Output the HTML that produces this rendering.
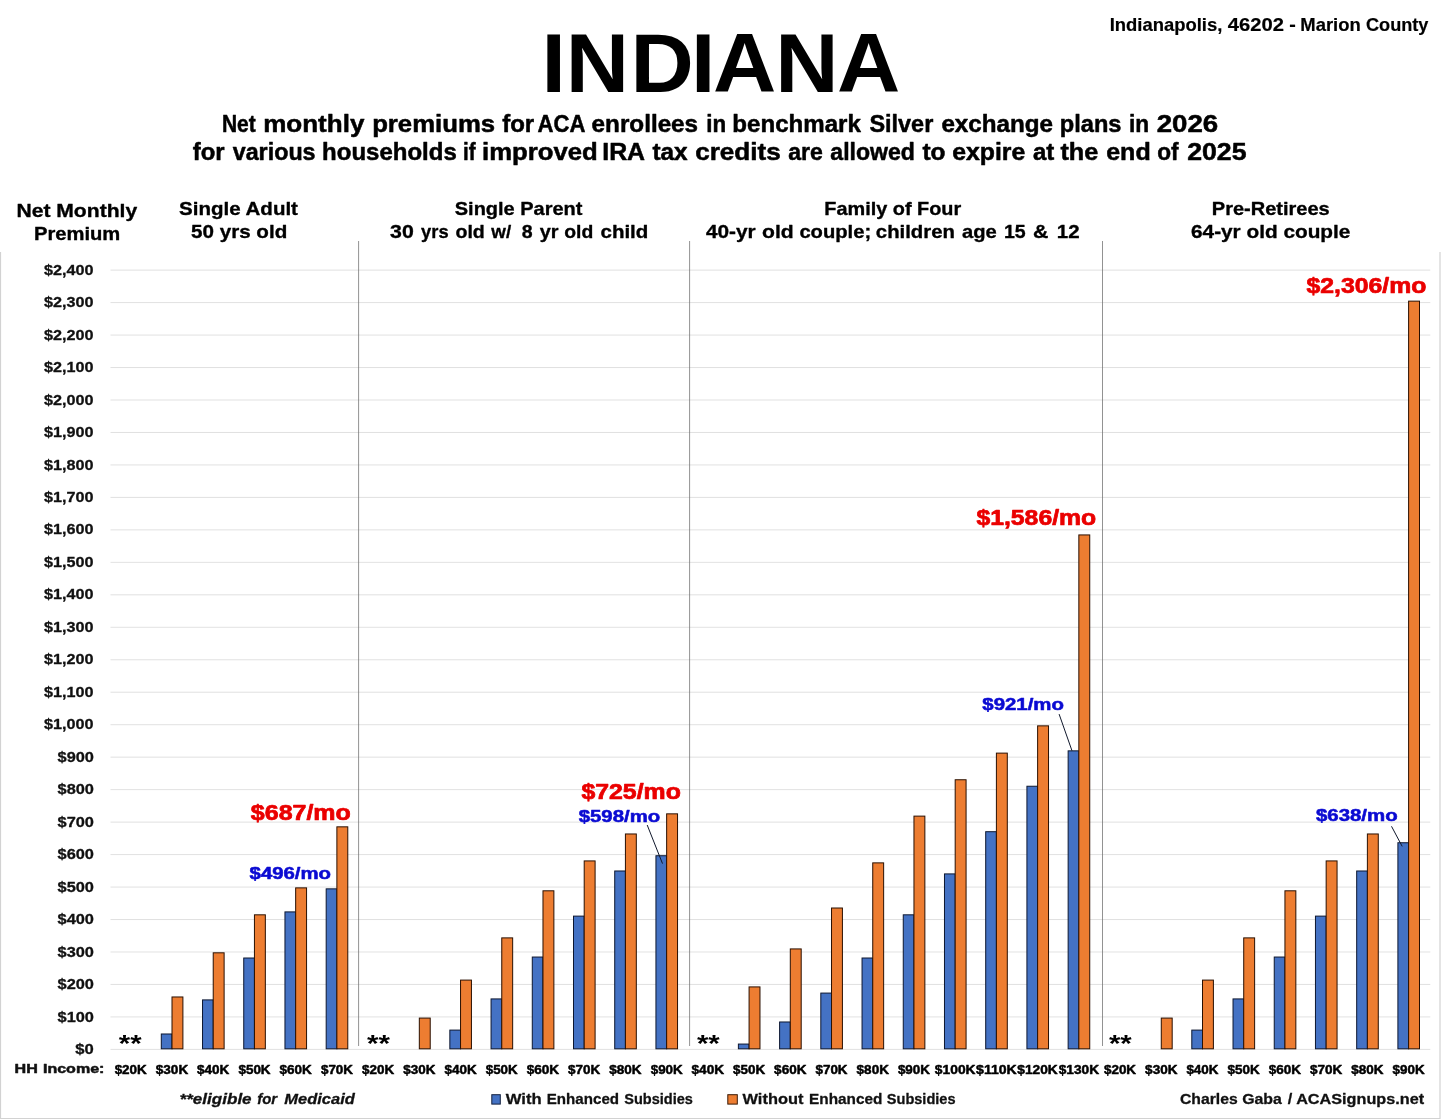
<!DOCTYPE html>
<html lang="en"><head><meta charset="utf-8"><title>Indiana - ACA net monthly premiums 2026</title>
<style>html,body{margin:0;padding:0;background:#fff}body{width:1441px;height:1120px;overflow:hidden}svg{display:block}text{font-family:"Liberation Sans",Arial,Helvetica,sans-serif;font-weight:bold;white-space:pre}</style></head><body>
<svg width="1441" height="1120" viewBox="0 0 1441 1120">
<rect width="1441" height="1120" fill="#fff"/>
<path d="M0.5 252V1118.5H1440V252" fill="none" stroke="#d2d2d2" stroke-width="1.2"/>
<g stroke="#d4d4d4" stroke-width="0.7">
<line x1="110.5" x2="1430.3" y1="1049.40" y2="1049.40"/>
<line x1="110.5" x2="1430.3" y1="1016.93" y2="1016.93"/>
<line x1="110.5" x2="1430.3" y1="984.46" y2="984.46"/>
<line x1="110.5" x2="1430.3" y1="951.99" y2="951.99"/>
<line x1="110.5" x2="1430.3" y1="919.52" y2="919.52"/>
<line x1="110.5" x2="1430.3" y1="887.05" y2="887.05"/>
<line x1="110.5" x2="1430.3" y1="854.58" y2="854.58"/>
<line x1="110.5" x2="1430.3" y1="822.11" y2="822.11"/>
<line x1="110.5" x2="1430.3" y1="789.64" y2="789.64"/>
<line x1="110.5" x2="1430.3" y1="757.17" y2="757.17"/>
<line x1="110.5" x2="1430.3" y1="724.70" y2="724.70"/>
<line x1="110.5" x2="1430.3" y1="692.23" y2="692.23"/>
<line x1="110.5" x2="1430.3" y1="659.76" y2="659.76"/>
<line x1="110.5" x2="1430.3" y1="627.29" y2="627.29"/>
<line x1="110.5" x2="1430.3" y1="594.82" y2="594.82"/>
<line x1="110.5" x2="1430.3" y1="562.35" y2="562.35"/>
<line x1="110.5" x2="1430.3" y1="529.88" y2="529.88"/>
<line x1="110.5" x2="1430.3" y1="497.41" y2="497.41"/>
<line x1="110.5" x2="1430.3" y1="464.94" y2="464.94"/>
<line x1="110.5" x2="1430.3" y1="432.47" y2="432.47"/>
<line x1="110.5" x2="1430.3" y1="400.00" y2="400.00"/>
<line x1="110.5" x2="1430.3" y1="367.53" y2="367.53"/>
<line x1="110.5" x2="1430.3" y1="335.06" y2="335.06"/>
<line x1="110.5" x2="1430.3" y1="302.59" y2="302.59"/>
<line x1="110.5" x2="1430.3" y1="270.12" y2="270.12"/>
</g>
<g stroke-width="1" stroke-linejoin="miter">
<rect x="161.30" y="1033.99" width="10.70" height="14.81" fill="#4472c4" stroke="#0d1730"/>
<rect x="172.00" y="996.97" width="10.90" height="51.83" fill="#ed7d31" stroke="#2a1002"/>
<rect x="202.52" y="999.90" width="10.70" height="48.90" fill="#4472c4" stroke="#0d1730"/>
<rect x="213.22" y="952.81" width="10.90" height="95.99" fill="#ed7d31" stroke="#2a1002"/>
<rect x="243.74" y="958.01" width="10.70" height="90.79" fill="#4472c4" stroke="#0d1730"/>
<rect x="254.44" y="914.82" width="10.90" height="133.98" fill="#ed7d31" stroke="#2a1002"/>
<rect x="284.96" y="911.90" width="10.70" height="136.90" fill="#4472c4" stroke="#0d1730"/>
<rect x="295.66" y="887.87" width="10.90" height="160.93" fill="#ed7d31" stroke="#2a1002"/>
<rect x="326.18" y="888.85" width="10.70" height="159.95" fill="#4472c4" stroke="#0d1730"/>
<rect x="336.88" y="826.83" width="10.90" height="221.97" fill="#ed7d31" stroke="#2a1002"/>
<rect x="419.32" y="1018.08" width="10.90" height="30.72" fill="#ed7d31" stroke="#2a1002"/>
<rect x="449.84" y="1030.09" width="10.70" height="18.71" fill="#4472c4" stroke="#0d1730"/>
<rect x="460.54" y="980.09" width="10.90" height="68.71" fill="#ed7d31" stroke="#2a1002"/>
<rect x="491.06" y="998.92" width="10.70" height="49.88" fill="#4472c4" stroke="#0d1730"/>
<rect x="501.76" y="937.88" width="10.90" height="110.92" fill="#ed7d31" stroke="#2a1002"/>
<rect x="532.28" y="957.04" width="10.70" height="91.76" fill="#4472c4" stroke="#0d1730"/>
<rect x="542.98" y="890.80" width="10.90" height="158.00" fill="#ed7d31" stroke="#2a1002"/>
<rect x="573.50" y="916.12" width="10.70" height="132.68" fill="#4472c4" stroke="#0d1730"/>
<rect x="584.20" y="860.92" width="10.90" height="187.88" fill="#ed7d31" stroke="#2a1002"/>
<rect x="614.72" y="870.99" width="10.70" height="177.81" fill="#4472c4" stroke="#0d1730"/>
<rect x="625.42" y="833.97" width="10.90" height="214.83" fill="#ed7d31" stroke="#2a1002"/>
<rect x="655.94" y="855.73" width="10.70" height="193.07" fill="#4472c4" stroke="#0d1730"/>
<rect x="666.64" y="813.84" width="10.90" height="234.96" fill="#ed7d31" stroke="#2a1002"/>
<rect x="738.38" y="1044.06" width="10.70" height="4.74" fill="#4472c4" stroke="#0d1730"/>
<rect x="749.08" y="986.91" width="10.90" height="61.89" fill="#ed7d31" stroke="#2a1002"/>
<rect x="779.60" y="1021.98" width="10.70" height="26.82" fill="#4472c4" stroke="#0d1730"/>
<rect x="790.30" y="948.92" width="10.90" height="99.88" fill="#ed7d31" stroke="#2a1002"/>
<rect x="820.82" y="993.08" width="10.70" height="55.72" fill="#4472c4" stroke="#0d1730"/>
<rect x="831.52" y="908.01" width="10.90" height="140.79" fill="#ed7d31" stroke="#2a1002"/>
<rect x="862.04" y="958.01" width="10.70" height="90.79" fill="#4472c4" stroke="#0d1730"/>
<rect x="872.74" y="862.87" width="10.90" height="185.93" fill="#ed7d31" stroke="#2a1002"/>
<rect x="903.26" y="914.82" width="10.70" height="133.98" fill="#4472c4" stroke="#0d1730"/>
<rect x="913.96" y="816.12" width="10.90" height="232.68" fill="#ed7d31" stroke="#2a1002"/>
<rect x="944.48" y="873.91" width="10.70" height="174.89" fill="#4472c4" stroke="#0d1730"/>
<rect x="955.18" y="779.75" width="10.90" height="269.05" fill="#ed7d31" stroke="#2a1002"/>
<rect x="985.70" y="831.70" width="10.70" height="217.10" fill="#4472c4" stroke="#0d1730"/>
<rect x="996.40" y="753.12" width="10.90" height="295.68" fill="#ed7d31" stroke="#2a1002"/>
<rect x="1026.92" y="786.24" width="10.70" height="262.56" fill="#4472c4" stroke="#0d1730"/>
<rect x="1037.62" y="725.85" width="10.90" height="322.95" fill="#ed7d31" stroke="#2a1002"/>
<rect x="1068.14" y="750.85" width="10.70" height="297.95" fill="#4472c4" stroke="#0d1730"/>
<rect x="1078.84" y="534.93" width="10.90" height="513.87" fill="#ed7d31" stroke="#2a1002"/>
<rect x="1161.28" y="1018.08" width="10.90" height="30.72" fill="#ed7d31" stroke="#2a1002"/>
<rect x="1191.80" y="1030.09" width="10.70" height="18.71" fill="#4472c4" stroke="#0d1730"/>
<rect x="1202.50" y="980.09" width="10.90" height="68.71" fill="#ed7d31" stroke="#2a1002"/>
<rect x="1233.02" y="998.92" width="10.70" height="49.88" fill="#4472c4" stroke="#0d1730"/>
<rect x="1243.72" y="937.88" width="10.90" height="110.92" fill="#ed7d31" stroke="#2a1002"/>
<rect x="1274.24" y="957.04" width="10.70" height="91.76" fill="#4472c4" stroke="#0d1730"/>
<rect x="1284.94" y="890.80" width="10.90" height="158.00" fill="#ed7d31" stroke="#2a1002"/>
<rect x="1315.46" y="916.12" width="10.70" height="132.68" fill="#4472c4" stroke="#0d1730"/>
<rect x="1326.16" y="860.92" width="10.90" height="187.88" fill="#ed7d31" stroke="#2a1002"/>
<rect x="1356.68" y="870.99" width="10.70" height="177.81" fill="#4472c4" stroke="#0d1730"/>
<rect x="1367.38" y="833.97" width="10.90" height="214.83" fill="#ed7d31" stroke="#2a1002"/>
<rect x="1397.90" y="842.74" width="10.70" height="206.06" fill="#4472c4" stroke="#0d1730"/>
<rect x="1408.60" y="301.14" width="10.90" height="747.66" fill="#ed7d31" stroke="#2a1002"/>
</g>
<g stroke="#6e6e6e" stroke-width="0.75">
<line x1="358.6" x2="358.6" y1="241" y2="1046"/>
<line x1="689.6" x2="689.6" y1="241" y2="1046"/>
<line x1="1102.5" x2="1102.5" y1="241" y2="1046"/>
</g>
<g stroke="#10182c" stroke-width="1">
<line x1="647.2" y1="825.0" x2="662.5" y2="863.6"/>
<line x1="1059.1" y1="714.1" x2="1072.0" y2="750.8"/>
<line x1="1391.5" y1="826.3" x2="1402.2" y2="846.4"/>
</g>
<rect x="491.8" y="1094.7" width="8.5" height="9.4" fill="#4472c4" stroke="#14213f" stroke-width="1"/>
<rect x="727.8" y="1094.7" width="9.5" height="9.4" fill="#ed7d31" stroke="#3a1a05" stroke-width="1"/>
<text id="t0" transform="scale(1.060,1)" x="510.87 533.65 594.77 651.91 672.65 731.38 789.63" y="91.90" font-size="82.70" fill="#000">INDIANA</text>
<text y="132.00" font-size="23.20" fill="#000" stroke="#000" stroke-width="0.50" stroke-linejoin="round"><tspan id="t1" x="221.91" textLength="33.75" lengthAdjust="spacingAndGlyphs">Net</tspan> <tspan id="t2" x="263.16" textLength="101.22" lengthAdjust="spacingAndGlyphs">monthly</tspan> <tspan id="t3" x="372.16" textLength="122.90" lengthAdjust="spacingAndGlyphs">premiums</tspan> <tspan id="t4" x="502.24" textLength="31.97" lengthAdjust="spacingAndGlyphs">for</tspan> <tspan id="t5" x="537.60" textLength="47.08" lengthAdjust="spacingAndGlyphs">ACA</tspan> <tspan id="t6" x="591.61" textLength="106.49" lengthAdjust="spacingAndGlyphs">enrollees</tspan> <tspan id="t7" x="706.25" textLength="19.86" lengthAdjust="spacingAndGlyphs">in</tspan> <tspan id="t8" x="732.38" textLength="128.48" lengthAdjust="spacingAndGlyphs">benchmark</tspan> <tspan id="t9" x="869.42" textLength="63.85" lengthAdjust="spacingAndGlyphs">Silver</tspan> <tspan id="t10" x="941.41" textLength="111.68" lengthAdjust="spacingAndGlyphs">exchange</tspan> <tspan id="t11" x="1059.83" textLength="61.68" lengthAdjust="spacingAndGlyphs">plans</tspan> <tspan id="t12" x="1128.88" textLength="20.14" lengthAdjust="spacingAndGlyphs">in</tspan> <tspan id="t13" x="1156.75" textLength="61.49" lengthAdjust="spacingAndGlyphs">2026</tspan></text>
<text y="160.30" font-size="23.20" fill="#000" stroke="#000" stroke-width="0.50" stroke-linejoin="round"><tspan id="t14" x="192.81" textLength="31.87" lengthAdjust="spacingAndGlyphs">for</tspan> <tspan id="t15" x="232.71" textLength="82.88" lengthAdjust="spacingAndGlyphs">various</tspan> <tspan id="t16" x="322.14" textLength="134.61" lengthAdjust="spacingAndGlyphs">households</tspan> <tspan id="t17" x="463.11" textLength="12.59" lengthAdjust="spacingAndGlyphs">if</tspan> <tspan id="t18" x="482.09" textLength="115.61" lengthAdjust="spacingAndGlyphs">improved</tspan> <tspan id="t19" x="602.22" textLength="41.95" lengthAdjust="spacingAndGlyphs">IRA</tspan> <tspan id="t20" x="652.44" textLength="35.19" lengthAdjust="spacingAndGlyphs">tax</tspan> <tspan id="t21" x="695.16" textLength="85.63" lengthAdjust="spacingAndGlyphs">credits</tspan> <tspan id="t22" x="788.23" textLength="34.66" lengthAdjust="spacingAndGlyphs">are</tspan> <tspan id="t23" x="830.33" textLength="84.58" lengthAdjust="spacingAndGlyphs">allowed</tspan> <tspan id="t24" x="922.44" textLength="23.09" lengthAdjust="spacingAndGlyphs">to</tspan> <tspan id="t25" x="952.17" textLength="73.06" lengthAdjust="spacingAndGlyphs">expire</tspan> <tspan id="t26" x="1032.90" textLength="21.36" lengthAdjust="spacingAndGlyphs">at</tspan> <tspan id="t27" x="1060.41" textLength="37.86" lengthAdjust="spacingAndGlyphs">the</tspan> <tspan id="t28" x="1106.19" textLength="44.49" lengthAdjust="spacingAndGlyphs">end</tspan> <tspan id="t29" x="1157.26" textLength="21.34" lengthAdjust="spacingAndGlyphs">of</tspan> <tspan id="t30" x="1187.15" textLength="59.33" lengthAdjust="spacingAndGlyphs">2025</tspan></text>
<text y="31.20" font-size="17.80" fill="#000" stroke="#000" stroke-width="0.20" stroke-linejoin="round"><tspan id="t31" x="1109.70" textLength="112.61" lengthAdjust="spacingAndGlyphs">Indianapolis,</tspan> <tspan id="t32" x="1227.78" textLength="56.17" lengthAdjust="spacingAndGlyphs">46202</tspan> <tspan id="t33" x="1289.32" textLength="6.55" lengthAdjust="spacingAndGlyphs">-</tspan> <tspan id="t34" x="1300.27" textLength="60.47" lengthAdjust="spacingAndGlyphs">Marion</tspan> <tspan id="t35" x="1366.02" textLength="62.42" lengthAdjust="spacingAndGlyphs">County</tspan></text>
<text id="t36" x="16.44" y="216.70" font-size="19.00" fill="#000" stroke="#000" stroke-width="0.35" stroke-linejoin="round" textLength="120.70" lengthAdjust="spacingAndGlyphs">Net Monthly</text>
<text id="t37" x="33.98" y="240.00" font-size="19.00" fill="#000" stroke="#000" stroke-width="0.35" stroke-linejoin="round" textLength="86.30" lengthAdjust="spacingAndGlyphs">Premium</text>
<text id="t38" x="179.09" y="215.00" font-size="19.00" fill="#000" stroke="#000" stroke-width="0.35" stroke-linejoin="round" textLength="118.86" lengthAdjust="spacingAndGlyphs">Single Adult</text>
<text id="t39" x="191.06" y="238.20" font-size="19.00" fill="#000" stroke="#000" stroke-width="0.35" stroke-linejoin="round" textLength="96.19" lengthAdjust="spacingAndGlyphs">50 yrs old</text>
<text id="t40" x="454.79" y="215.00" font-size="19.00" fill="#000" stroke="#000" stroke-width="0.35" stroke-linejoin="round" textLength="127.58" lengthAdjust="spacingAndGlyphs">Single Parent</text>
<text y="238.20" font-size="19.00" fill="#000" stroke="#000" stroke-width="0.35" stroke-linejoin="round"><tspan id="t41" x="390.13" textLength="23.67" lengthAdjust="spacingAndGlyphs">30</tspan> <tspan id="t42" x="421.11" textLength="27.47" lengthAdjust="spacingAndGlyphs">yrs</tspan> <tspan id="t43" x="455.47" textLength="29.33" lengthAdjust="spacingAndGlyphs">old</tspan> <tspan id="t44" x="491.36" textLength="19.80" lengthAdjust="spacingAndGlyphs">w/</tspan> <tspan id="t45" x="521.85" textLength="10.85" lengthAdjust="spacingAndGlyphs">8</tspan> <tspan id="t46" x="539.79" textLength="18.79" lengthAdjust="spacingAndGlyphs">yr</tspan> <tspan id="t47" x="564.30" textLength="29.00" lengthAdjust="spacingAndGlyphs">old</tspan> <tspan id="t48" x="600.48" textLength="47.87" lengthAdjust="spacingAndGlyphs">child</tspan></text>
<text id="t49" x="824.37" y="215.00" font-size="19.00" fill="#000" stroke="#000" stroke-width="0.35" stroke-linejoin="round" textLength="136.77" lengthAdjust="spacingAndGlyphs">Family of Four</text>
<text y="238.20" font-size="19.00" fill="#000" stroke="#000" stroke-width="0.35" stroke-linejoin="round"><tspan id="t50" x="705.90" textLength="49.72" lengthAdjust="spacingAndGlyphs">40-yr</tspan> <tspan id="t51" x="762.12" textLength="31.65" lengthAdjust="spacingAndGlyphs">old</tspan> <tspan id="t52" x="799.41" textLength="71.71" lengthAdjust="spacingAndGlyphs">couple;</tspan> <tspan id="t53" x="875.87" textLength="78.96" lengthAdjust="spacingAndGlyphs">children</tspan> <tspan id="t54" x="962.05" textLength="34.78" lengthAdjust="spacingAndGlyphs">age</tspan> <tspan id="t55" x="1003.90" textLength="21.73" lengthAdjust="spacingAndGlyphs">15</tspan> <tspan id="t56" x="1032.93" textLength="15.41" lengthAdjust="spacingAndGlyphs">&amp;</tspan> <tspan id="t57" x="1056.85" textLength="22.79" lengthAdjust="spacingAndGlyphs">12</tspan></text>
<text id="t58" x="1211.89" y="215.00" font-size="19.00" fill="#000" stroke="#000" stroke-width="0.35" stroke-linejoin="round" textLength="117.85" lengthAdjust="spacingAndGlyphs">Pre-Retirees</text>
<text id="t59" x="1191.03" y="238.20" font-size="19.00" fill="#000" stroke="#000" stroke-width="0.35" stroke-linejoin="round" textLength="159.39" lengthAdjust="spacingAndGlyphs">64-yr old couple</text>
<text id="t60" x="75.25" y="1054.00" font-size="15.00" fill="#111" stroke="#111" stroke-width="0.30" stroke-linejoin="round" textLength="18.46" lengthAdjust="spacingAndGlyphs">$0</text>
<text id="t61" x="57.54" y="1021.53" font-size="15.00" fill="#111" stroke="#111" stroke-width="0.30" stroke-linejoin="round" textLength="36.41" lengthAdjust="spacingAndGlyphs">$100</text>
<text id="t62" x="57.54" y="989.06" font-size="15.00" fill="#111" stroke="#111" stroke-width="0.30" stroke-linejoin="round" textLength="36.41" lengthAdjust="spacingAndGlyphs">$200</text>
<text id="t63" x="57.54" y="956.59" font-size="15.00" fill="#111" stroke="#111" stroke-width="0.30" stroke-linejoin="round" textLength="36.41" lengthAdjust="spacingAndGlyphs">$300</text>
<text id="t64" x="57.54" y="924.12" font-size="15.00" fill="#111" stroke="#111" stroke-width="0.30" stroke-linejoin="round" textLength="36.41" lengthAdjust="spacingAndGlyphs">$400</text>
<text id="t65" x="57.54" y="891.65" font-size="15.00" fill="#111" stroke="#111" stroke-width="0.30" stroke-linejoin="round" textLength="36.41" lengthAdjust="spacingAndGlyphs">$500</text>
<text id="t66" x="57.54" y="859.18" font-size="15.00" fill="#111" stroke="#111" stroke-width="0.30" stroke-linejoin="round" textLength="36.41" lengthAdjust="spacingAndGlyphs">$600</text>
<text id="t67" x="57.54" y="826.71" font-size="15.00" fill="#111" stroke="#111" stroke-width="0.30" stroke-linejoin="round" textLength="36.41" lengthAdjust="spacingAndGlyphs">$700</text>
<text id="t68" x="57.54" y="794.24" font-size="15.00" fill="#111" stroke="#111" stroke-width="0.30" stroke-linejoin="round" textLength="36.41" lengthAdjust="spacingAndGlyphs">$800</text>
<text id="t69" x="57.54" y="761.77" font-size="15.00" fill="#111" stroke="#111" stroke-width="0.30" stroke-linejoin="round" textLength="36.41" lengthAdjust="spacingAndGlyphs">$900</text>
<text id="t70" x="44.09" y="729.30" font-size="15.00" fill="#111" stroke="#111" stroke-width="0.30" stroke-linejoin="round" textLength="49.50" lengthAdjust="spacingAndGlyphs">$1,000</text>
<text id="t71" x="44.09" y="696.83" font-size="15.00" fill="#111" stroke="#111" stroke-width="0.30" stroke-linejoin="round" textLength="49.50" lengthAdjust="spacingAndGlyphs">$1,100</text>
<text id="t72" x="44.09" y="664.36" font-size="15.00" fill="#111" stroke="#111" stroke-width="0.30" stroke-linejoin="round" textLength="49.50" lengthAdjust="spacingAndGlyphs">$1,200</text>
<text id="t73" x="44.09" y="631.89" font-size="15.00" fill="#111" stroke="#111" stroke-width="0.30" stroke-linejoin="round" textLength="49.50" lengthAdjust="spacingAndGlyphs">$1,300</text>
<text id="t74" x="44.09" y="599.42" font-size="15.00" fill="#111" stroke="#111" stroke-width="0.30" stroke-linejoin="round" textLength="49.50" lengthAdjust="spacingAndGlyphs">$1,400</text>
<text id="t75" x="44.09" y="566.95" font-size="15.00" fill="#111" stroke="#111" stroke-width="0.30" stroke-linejoin="round" textLength="49.50" lengthAdjust="spacingAndGlyphs">$1,500</text>
<text id="t76" x="44.09" y="534.48" font-size="15.00" fill="#111" stroke="#111" stroke-width="0.30" stroke-linejoin="round" textLength="49.50" lengthAdjust="spacingAndGlyphs">$1,600</text>
<text id="t77" x="44.09" y="502.01" font-size="15.00" fill="#111" stroke="#111" stroke-width="0.30" stroke-linejoin="round" textLength="49.50" lengthAdjust="spacingAndGlyphs">$1,700</text>
<text id="t78" x="44.09" y="469.54" font-size="15.00" fill="#111" stroke="#111" stroke-width="0.30" stroke-linejoin="round" textLength="49.50" lengthAdjust="spacingAndGlyphs">$1,800</text>
<text id="t79" x="44.09" y="437.07" font-size="15.00" fill="#111" stroke="#111" stroke-width="0.30" stroke-linejoin="round" textLength="49.50" lengthAdjust="spacingAndGlyphs">$1,900</text>
<text id="t80" x="44.09" y="404.60" font-size="15.00" fill="#111" stroke="#111" stroke-width="0.30" stroke-linejoin="round" textLength="49.50" lengthAdjust="spacingAndGlyphs">$2,000</text>
<text id="t81" x="44.09" y="372.13" font-size="15.00" fill="#111" stroke="#111" stroke-width="0.30" stroke-linejoin="round" textLength="49.50" lengthAdjust="spacingAndGlyphs">$2,100</text>
<text id="t82" x="44.09" y="339.66" font-size="15.00" fill="#111" stroke="#111" stroke-width="0.30" stroke-linejoin="round" textLength="49.50" lengthAdjust="spacingAndGlyphs">$2,200</text>
<text id="t83" x="44.09" y="307.19" font-size="15.00" fill="#111" stroke="#111" stroke-width="0.30" stroke-linejoin="round" textLength="49.50" lengthAdjust="spacingAndGlyphs">$2,300</text>
<text id="t84" x="44.09" y="274.72" font-size="15.00" fill="#111" stroke="#111" stroke-width="0.30" stroke-linejoin="round" textLength="49.50" lengthAdjust="spacingAndGlyphs">$2,400</text>
<text id="t85" x="114.65" y="1073.80" font-size="13.30" fill="#000" stroke="#000" stroke-width="0.50" stroke-linejoin="round" textLength="32.13" lengthAdjust="spacingAndGlyphs">$20K</text>
<text id="t86" x="155.81" y="1073.80" font-size="13.30" fill="#000" stroke="#000" stroke-width="0.50" stroke-linejoin="round" textLength="32.37" lengthAdjust="spacingAndGlyphs">$30K</text>
<text id="t87" x="197.07" y="1073.80" font-size="13.30" fill="#000" stroke="#000" stroke-width="0.50" stroke-linejoin="round" textLength="32.28" lengthAdjust="spacingAndGlyphs">$40K</text>
<text id="t88" x="238.42" y="1073.80" font-size="13.30" fill="#000" stroke="#000" stroke-width="0.50" stroke-linejoin="round" textLength="32.20" lengthAdjust="spacingAndGlyphs">$50K</text>
<text id="t89" x="279.58" y="1073.80" font-size="13.30" fill="#000" stroke="#000" stroke-width="0.50" stroke-linejoin="round" textLength="32.28" lengthAdjust="spacingAndGlyphs">$60K</text>
<text id="t90" x="320.94" y="1073.80" font-size="13.30" fill="#000" stroke="#000" stroke-width="0.50" stroke-linejoin="round" textLength="32.04" lengthAdjust="spacingAndGlyphs">$70K</text>
<text id="t91" x="362.06" y="1073.80" font-size="13.30" fill="#000" stroke="#000" stroke-width="0.50" stroke-linejoin="round" textLength="32.09" lengthAdjust="spacingAndGlyphs">$20K</text>
<text id="t92" x="403.26" y="1073.80" font-size="13.30" fill="#000" stroke="#000" stroke-width="0.50" stroke-linejoin="round" textLength="32.12" lengthAdjust="spacingAndGlyphs">$30K</text>
<text id="t93" x="444.43" y="1073.80" font-size="13.30" fill="#000" stroke="#000" stroke-width="0.50" stroke-linejoin="round" textLength="32.21" lengthAdjust="spacingAndGlyphs">$40K</text>
<text id="t94" x="485.78" y="1073.80" font-size="13.30" fill="#000" stroke="#000" stroke-width="0.50" stroke-linejoin="round" textLength="31.91" lengthAdjust="spacingAndGlyphs">$50K</text>
<text id="t95" x="526.67" y="1073.80" font-size="13.30" fill="#000" stroke="#000" stroke-width="0.50" stroke-linejoin="round" textLength="32.49" lengthAdjust="spacingAndGlyphs">$60K</text>
<text id="t96" x="568.08" y="1073.80" font-size="13.30" fill="#000" stroke="#000" stroke-width="0.50" stroke-linejoin="round" textLength="32.14" lengthAdjust="spacingAndGlyphs">$70K</text>
<text id="t97" x="609.28" y="1073.80" font-size="13.30" fill="#000" stroke="#000" stroke-width="0.50" stroke-linejoin="round" textLength="32.37" lengthAdjust="spacingAndGlyphs">$80K</text>
<text id="t98" x="650.71" y="1073.80" font-size="13.30" fill="#000" stroke="#000" stroke-width="0.50" stroke-linejoin="round" textLength="32.06" lengthAdjust="spacingAndGlyphs">$90K</text>
<text id="t99" x="691.56" y="1073.80" font-size="13.30" fill="#000" stroke="#000" stroke-width="0.50" stroke-linejoin="round" textLength="32.52" lengthAdjust="spacingAndGlyphs">$40K</text>
<text id="t100" x="733.10" y="1073.80" font-size="13.30" fill="#000" stroke="#000" stroke-width="0.50" stroke-linejoin="round" textLength="32.03" lengthAdjust="spacingAndGlyphs">$50K</text>
<text id="t101" x="774.13" y="1073.80" font-size="13.30" fill="#000" stroke="#000" stroke-width="0.50" stroke-linejoin="round" textLength="32.28" lengthAdjust="spacingAndGlyphs">$60K</text>
<text id="t102" x="815.48" y="1073.80" font-size="13.30" fill="#000" stroke="#000" stroke-width="0.50" stroke-linejoin="round" textLength="32.07" lengthAdjust="spacingAndGlyphs">$70K</text>
<text id="t103" x="856.62" y="1073.80" font-size="13.30" fill="#000" stroke="#000" stroke-width="0.50" stroke-linejoin="round" textLength="32.29" lengthAdjust="spacingAndGlyphs">$80K</text>
<text id="t104" x="897.92" y="1073.80" font-size="13.30" fill="#000" stroke="#000" stroke-width="0.50" stroke-linejoin="round" textLength="32.09" lengthAdjust="spacingAndGlyphs">$90K</text>
<text id="t105" x="934.89" y="1073.80" font-size="13.30" fill="#000" stroke="#000" stroke-width="0.50" stroke-linejoin="round" textLength="40.64" lengthAdjust="spacingAndGlyphs">$100K</text>
<text id="t106" x="976.07" y="1073.80" font-size="13.30" fill="#000" stroke="#000" stroke-width="0.50" stroke-linejoin="round" textLength="40.67" lengthAdjust="spacingAndGlyphs">$110K</text>
<text id="t107" x="1017.36" y="1073.80" font-size="13.30" fill="#000" stroke="#000" stroke-width="0.50" stroke-linejoin="round" textLength="40.40" lengthAdjust="spacingAndGlyphs">$120K</text>
<text id="t108" x="1058.73" y="1073.80" font-size="13.30" fill="#000" stroke="#000" stroke-width="0.50" stroke-linejoin="round" textLength="40.39" lengthAdjust="spacingAndGlyphs">$130K</text>
<text id="t109" x="1103.95" y="1073.80" font-size="13.30" fill="#000" stroke="#000" stroke-width="0.50" stroke-linejoin="round" textLength="32.13" lengthAdjust="spacingAndGlyphs">$20K</text>
<text id="t110" x="1145.14" y="1073.80" font-size="13.30" fill="#000" stroke="#000" stroke-width="0.50" stroke-linejoin="round" textLength="32.36" lengthAdjust="spacingAndGlyphs">$30K</text>
<text id="t111" x="1186.41" y="1073.80" font-size="13.30" fill="#000" stroke="#000" stroke-width="0.50" stroke-linejoin="round" textLength="32.10" lengthAdjust="spacingAndGlyphs">$40K</text>
<text id="t112" x="1227.56" y="1073.80" font-size="13.30" fill="#000" stroke="#000" stroke-width="0.50" stroke-linejoin="round" textLength="32.20" lengthAdjust="spacingAndGlyphs">$50K</text>
<text id="t113" x="1268.78" y="1073.80" font-size="13.30" fill="#000" stroke="#000" stroke-width="0.50" stroke-linejoin="round" textLength="32.22" lengthAdjust="spacingAndGlyphs">$60K</text>
<text id="t114" x="1309.96" y="1073.80" font-size="13.30" fill="#000" stroke="#000" stroke-width="0.50" stroke-linejoin="round" textLength="32.31" lengthAdjust="spacingAndGlyphs">$70K</text>
<text id="t115" x="1351.25" y="1073.80" font-size="13.30" fill="#000" stroke="#000" stroke-width="0.50" stroke-linejoin="round" textLength="32.19" lengthAdjust="spacingAndGlyphs">$80K</text>
<text id="t116" x="1392.62" y="1073.80" font-size="13.30" fill="#000" stroke="#000" stroke-width="0.50" stroke-linejoin="round" textLength="32.06" lengthAdjust="spacingAndGlyphs">$90K</text>
<text y="1072.50" font-size="13.40" fill="#111" stroke="#111" stroke-width="0.50" stroke-linejoin="round"><tspan id="t117" x="14.54" textLength="23.26" lengthAdjust="spacingAndGlyphs">HH</tspan> <tspan id="t118" x="42.94" textLength="61.49" lengthAdjust="spacingAndGlyphs">Income:</tspan></text>
<text y="1103.70" font-size="14.90" fill="#111" font-style="italic" stroke="#111" stroke-width="0.30" stroke-linejoin="round"><tspan id="t119" x="179.62" textLength="72.00" lengthAdjust="spacingAndGlyphs">**eligible</tspan> <tspan id="t120" x="257.34" textLength="19.84" lengthAdjust="spacingAndGlyphs">for</tspan> <tspan id="t121" x="284.23" textLength="70.58" lengthAdjust="spacingAndGlyphs">Medicaid</tspan></text>
<text y="1104.00" font-size="15.50" fill="#111" stroke="#111" stroke-width="0.30" stroke-linejoin="round"><tspan id="t122" x="505.78" textLength="35.92" lengthAdjust="spacingAndGlyphs">With</tspan> <tspan id="t123" x="546.75" textLength="72.29" lengthAdjust="spacingAndGlyphs">Enhanced</tspan> <tspan id="t124" x="624.20" textLength="68.69" lengthAdjust="spacingAndGlyphs">Subsidies</tspan></text>
<text y="1104.00" font-size="15.50" fill="#111" stroke="#111" stroke-width="0.30" stroke-linejoin="round"><tspan id="t125" x="742.51" textLength="60.93" lengthAdjust="spacingAndGlyphs">Without</tspan> <tspan id="t126" x="809.05" textLength="73.28" lengthAdjust="spacingAndGlyphs">Enhanced</tspan> <tspan id="t127" x="886.79" textLength="68.77" lengthAdjust="spacingAndGlyphs">Subsidies</tspan></text>
<text y="1103.50" font-size="15.30" fill="#111" stroke="#111" stroke-width="0.30" stroke-linejoin="round"><tspan id="t128" x="1179.98" textLength="57.73" lengthAdjust="spacingAndGlyphs">Charles</tspan> <tspan id="t129" x="1242.20" textLength="39.66" lengthAdjust="spacingAndGlyphs">Gaba</tspan> <tspan id="t130" x="1287.74" textLength="136.36" lengthAdjust="spacingAndGlyphs">/ ACASignups.net</tspan></text>
<text id="t131" x="250.89" y="819.60" font-size="21.40" fill="#ea0000" stroke="#ea0000" stroke-width="0.70" stroke-linejoin="round" textLength="99.92" lengthAdjust="spacingAndGlyphs">$687/mo</text>
<text id="t132" x="249.57" y="878.50" font-size="17.00" fill="#0a0ad2" stroke="#0a0ad2" stroke-width="0.55" stroke-linejoin="round" textLength="81.48" lengthAdjust="spacingAndGlyphs">$496/mo</text>
<text id="t133" x="581.44" y="798.75" font-size="21.40" fill="#ea0000" stroke="#ea0000" stroke-width="0.70" stroke-linejoin="round" textLength="99.38" lengthAdjust="spacingAndGlyphs">$725/mo</text>
<text id="t134" x="578.76" y="822.30" font-size="17.00" fill="#0a0ad2" stroke="#0a0ad2" stroke-width="0.55" stroke-linejoin="round" textLength="81.39" lengthAdjust="spacingAndGlyphs">$598/mo</text>
<text id="t135" x="976.45" y="524.60" font-size="21.40" fill="#ea0000" stroke="#ea0000" stroke-width="0.70" stroke-linejoin="round" textLength="119.73" lengthAdjust="spacingAndGlyphs">$1,586/mo</text>
<text id="t136" x="982.34" y="710.40" font-size="17.00" fill="#0a0ad2" stroke="#0a0ad2" stroke-width="0.55" stroke-linejoin="round" textLength="81.57" lengthAdjust="spacingAndGlyphs">$921/mo</text>
<text id="t137" x="1306.50" y="293.40" font-size="21.40" fill="#ea0000" stroke="#ea0000" stroke-width="0.70" stroke-linejoin="round" textLength="119.83" lengthAdjust="spacingAndGlyphs">$2,306/mo</text>
<text id="t138" x="1315.96" y="820.60" font-size="17.00" fill="#0a0ad2" stroke="#0a0ad2" stroke-width="0.55" stroke-linejoin="round" textLength="81.73" lengthAdjust="spacingAndGlyphs">$638/mo</text>
<text id="t139" x="118.88" y="1052.20" font-size="24.70" fill="#000" textLength="22.77" lengthAdjust="spacingAndGlyphs">**</text>
<text id="t140" x="366.97" y="1052.20" font-size="24.70" fill="#000" textLength="22.92" lengthAdjust="spacingAndGlyphs">**</text>
<text id="t141" x="696.93" y="1052.20" font-size="24.70" fill="#000" textLength="22.83" lengthAdjust="spacingAndGlyphs">**</text>
<text id="t142" x="1108.93" y="1052.20" font-size="24.70" fill="#000" textLength="22.83" lengthAdjust="spacingAndGlyphs">**</text>
</svg></body></html>
